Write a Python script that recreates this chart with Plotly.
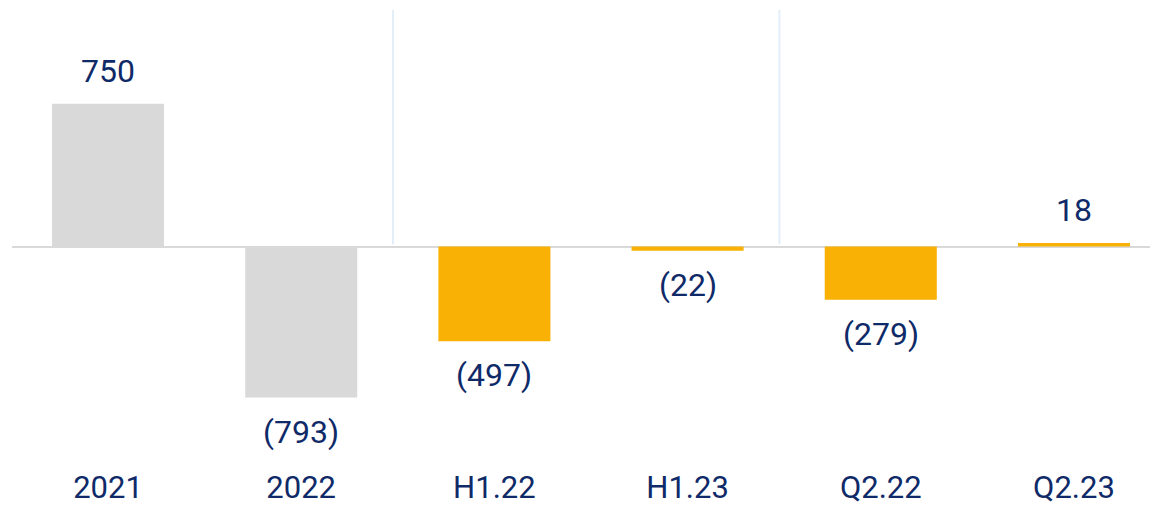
import plotly.graph_objects as go

categories = ["2021", "2022", "H1.22", "H1.23", "Q2.22", "Q2.23"]
values = [750, -793, -497, -22, -279, 18]
bar_colors = ["#d9d9d9", "#d9d9d9", "#f8b104", "#f8b104", "#f8b104", "#f8b104"]
separators_after = [1, 3]  # vertical divider after these category indices

navy = "#0f2a68"
font_family = "Roboto, 'Noto Sans', sans-serif"


def fmt(v):
    return f"({abs(v):,})" if v < 0 else f"{v:,}"


fig = go.Figure()
fig.add_trace(go.Bar(
    x=categories, y=values,
    marker=dict(color=bar_colors, line=dict(width=0)),
    width=0.58,
    hoverinfo="x+y",
))

# value labels (use category index so "2021" isn't read as a number)
for i, v in enumerate(values):
    fig.add_annotation(
        x=i, y=v, text=fmt(v), showarrow=False,
        yanchor="middle", yshift=33 if v >= 0 else -34,
        font=dict(size=32, color=navy, family=font_family),
    )

for i in separators_after:
    fig.add_shape(
        type="line", xref="x", yref="paper",
        x0=i + 0.475, x1=i + 0.475, y0=0.484, y1=0.996,
        line=dict(color="#e3eef9", width=2), layer="below",
    )

fig.update_xaxes(
    type="category", range=[-0.497, 5.435],
    showgrid=False, showline=False, ticks="",
    tickfont=dict(size=31, color=navy, family=font_family),
    automargin=False,
)
fig.update_yaxes(
    range=[-1152, 1252], showgrid=False, showticklabels=False,
    zeroline=True, zerolinecolor="#d9d9d9", zerolinewidth=2,
)
fig.update_layout(
    width=1150, height=499,
    margin=dict(l=4, r=0, t=0, b=41),
    plot_bgcolor="white", paper_bgcolor="white",
    showlegend=False, bargap=0.42,
)

fig.write_html("out.html")
